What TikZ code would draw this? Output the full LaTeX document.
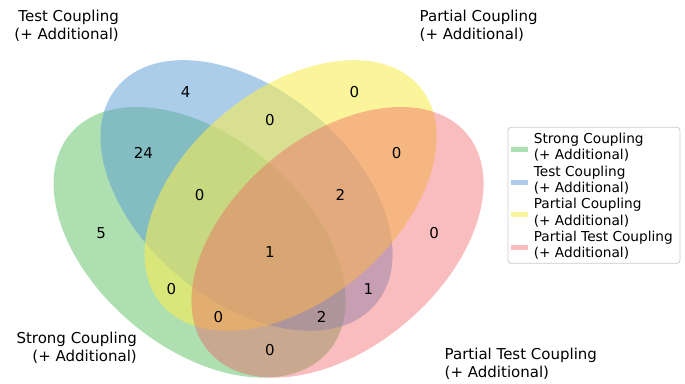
\documentclass[tikz,border=0pt]{standalone}
\usepackage{fontspec}
\setmainfont{DejaVu Sans}
\usepackage{tikz}

\definecolor{strongc}{RGB}{92,192,98}
\definecolor{testc}{RGB}{90,155,212}
\definecolor{partc}{RGB}{246,236,86}
\definecolor{ptestc}{RGB}{241,90,96}

\tikzset{
  count/.style={inner sep=0pt,font=\fontsize{15}{18}\selectfont},
  setlabel/.style={inner sep=0pt,font=\fontsize{15}{18}\selectfont},
  legtext/.style={inner sep=0pt,anchor=north west,align=left,font=\fontsize{13.7}{16.2}\selectfont},
}

\begin{document}
\begin{tikzpicture}[x=1pt,y=-1pt]
\useasboundingbox (0,0) rectangle (685,383);
% the four sets
\foreach \name/\cx/\cy/\ang/\col/\op in {
	strong/199.65/242.3/140/strongc/0.5,
	test/246.55/195.45/140/testc/0.5,
	part/290.6/195.45/40/partc/0.6,
	ptest/337.5/242.3/40/ptestc/0.4}
	{
	\coordinate (\name) at (\cx,\cy);
	\fill[\col,fill opacity=\op,rotate around={\ang:(\name)}]
		(\name) ellipse (168.8 and 105.5);
	}

% region counts
\foreach \name/\px/\py/\val in {
	1000/101.2/232.9/5, 0100/185.6/92.2/4, 0010/354.4/92.2/0, 0001/434.2/232.9/0,
	1100/143.4/153.2/24, 0110/270/120.4/0, 0011/396.6/153.2/0,
	1110/199.7/195.4/0, 0111/340.4/195.4/2, 1111/270/251.7/1,
	1010/171.5/289.2/0, 0101/368.5/289.2/1,
	1011/218.4/317.3/0, 1101/321.6/317.3/2, 1001/270/350.2/0}
	{
	\node[count] (n\name) at (\px,\py) {\val};
	}

\node[setlabel,anchor=north east,align=right] (lstrong) at (137,332.3) {Strong Coupling\\(+ Additional)};
\node[setlabel,anchor=north east,align=right] (ltest) at (119,9.6) {Test Coupling\\(+ Additional)};
\node[setlabel,anchor=north west,align=left] (lpart) at (419.5,9.6) {Partial Coupling\\(+ Additional)};
\node[setlabel,anchor=north west,align=left] (lptest) at (444.5,347.5) {Partial Test Coupling\\(+ Additional)};

% legend
\draw[black!20,fill=white,fill opacity=0.8,rounded corners=3pt,line width=0.8pt]
	(508,127.3) rectangle (680,263.3);
\foreach \i/\col/\op/\txt in {
	0/strongc/0.5/Strong Coupling,
	1/testc/0.5/Test Coupling,
	2/partc/0.6/Partial Coupling,
	3/ptestc/0.4/Partial Test Coupling}
	{
	\fill[\col,fill opacity=\op] (511,146.7+32.8*\i) rectangle ++(17,5);
	\node[legtext] (leg\i) at (533.6,132.7+32.8*\i) {\txt\\(+ Additional)};
	}
\end{tikzpicture}
\end{document}
